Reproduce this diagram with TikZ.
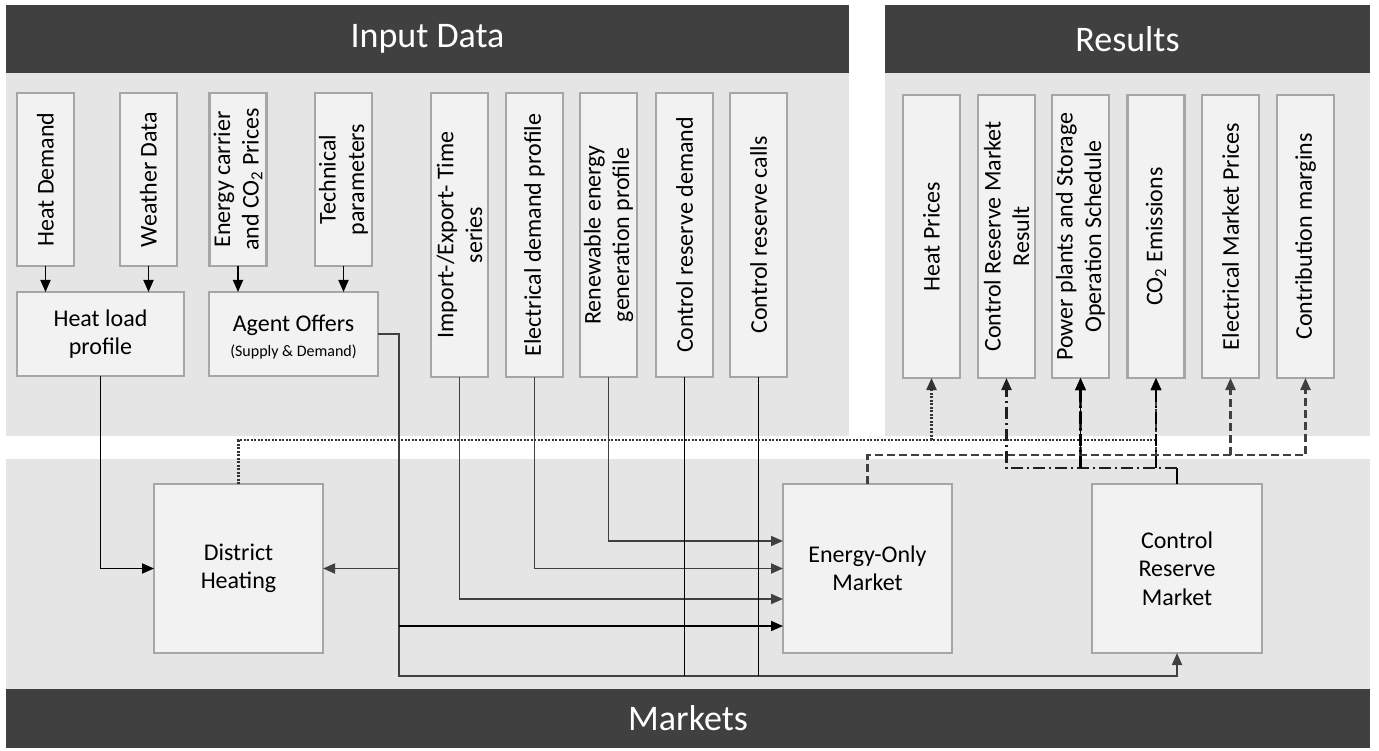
\documentclass[tikz,border=0pt]{standalone}
\usepackage{fontspec}
\setmainfont{Carlito}
\usetikzlibrary{arrows.meta,calc}
\definecolor{darkc}{HTML}{404040}
\definecolor{panelc}{HTML}{E5E5E5}
\definecolor{boxfill}{HTML}{F2F2F2}
\definecolor{boxborder}{HTML}{A6A6A6}
\definecolor{linegrey}{HTML}{404040}
\newcommand{\headfont}{\fontsize{36}{42}\selectfont}
\newcommand{\boxfont}{\fontsize{24}{28.5}\selectfont}
\newcommand{\smallboxfont}{\fontsize{16}{19}\selectfont}
\begin{document}
\begin{tikzpicture}[x=1pt,y=-1pt,
  panel/.style={fill=panelc,draw=none},
  bar/.style={fill=darkc,draw=none},
  bartext/.style={text=white,font=\headfont},
  box/.style={draw=boxborder,line width=2.5pt,fill=boxfill,inner sep=0pt,outer sep=0pt},
  vbox/.style={box,minimum width=57pt,minimum height=284pt},
  sbox/.style={box,minimum width=57pt,minimum height=173pt},
  mbox/.style={box,minimum width=169pt,minimum height=169pt},
  vtext/.style={rotate=90,align=center,font=\boxfont,inner sep=0pt},
  htext/.style={align=center,font=\boxfont,inner sep=0pt},
  conn/.style={line width=1.8pt,draw=linegrey},
  connb/.style={line width=1.8pt,draw=black},
  arr/.style={-{Triangle[length=12pt,width=10pt]}},
  dotl/.style={line width=2.3pt,draw=black!80,dash pattern=on 2pt off 1.5pt},
  dashl/.style={line width=2.3pt,draw=linegrey,dash pattern=on 8pt off 4pt},
  ddl/.style={line width=2.3pt,draw=black!88,dash pattern=on 12pt off 4pt on 2pt off 4pt},
]
\useasboundingbox (0,0) rectangle (1379,751);
\fill[white] (0,0) rectangle (1379,751);
% panels and bars
\fill[panel] (6,73) rectangle (849,436);
\fill[panel] (885,73) rectangle (1370,436);
\fill[panel] (6,459) rectangle (1370,689);
\fill[bar] (6,5) rectangle (849,73);
\fill[bar] (885,5) rectangle (1370,73);
\fill[bar] (6,689) rectangle (1370,748);
\node[bartext] (tin) at (427.5,39) {Input Data};
\node[bartext] (tres) at (1127.5,39) {Results};
\node[bartext] (tmk) at (688,718.5) {Markets};
% input boxes
\node[sbox] (hd) at (45.5,179.5) {};
\node[vtext] (hdt) at (hd) {Heat Demand};
\node[sbox] (wd) at (148.5,179.5) {};
\node[vtext] (wdt) at (wd) {Weather Data};
\node[sbox] (ec) at (238,179.5) {};
\node[vtext] (ect) at (ec) {Energy carrier\\and CO\textsubscript{2} Prices};
\node[sbox] (tp) at (343.5,179.5) {};
\node[vtext] (tpt) at (tp) {Technical\\parameters};
\node[box,minimum width=167pt,minimum height=84pt] (hlp) at (100.5,334) {};
\node[htext] (hlpt) at (hlp) {Heat load\\profile};
\node[box,minimum width=169pt,minimum height=84pt] (ao) at (293.5,334) {};
\node[htext] (aot) at (293.5,337) {Agent Offers\\[-3pt]{\smallboxfont(Supply \& Demand)}};
\node[vbox] (ie) at (459.5,235) {};
\node[vtext] (iet) at (ie) {Import-/Export- Time\\series};
\node[vbox] (ed) at (534.5,235) {};
\node[vtext] (edt) at (ed) {Electrical demand profile};
\node[vbox] (re) at (608.5,235) {};
\node[vtext] (ret) at (re) {Renewable energy\\generation profile};
\node[vbox] (crd) at (684.5,235) {};
\node[vtext] (crdt) at (crd) {Control reserve demand};
\node[vbox] (crc) at (758.5,235) {};
\node[vtext] (crct) at (crc) {Control reserve calls};
% result boxes
\node[vbox,minimum height=283pt] (hp) at (931.5,236.5) {};
\node[vtext] (hpt) at (hp) {Heat Prices};
\node[vbox,minimum height=283pt] (crmr) at (1006.5,236.5) {};
\node[vtext] (crmrt) at (crmr) {Control Reserve Market\\Result};
\node[vbox,minimum height=283pt] (pp) at (1080.5,236.5) {};
\node[vtext] (ppt) at (pp) {Power plants and Storage\\Operation Schedule};
\node[vbox,minimum height=283pt] (co2) at (1156,236.5) {};
\node[vtext] (co2t) at (co2) {CO\textsubscript{2} Emissions};
\node[vbox,minimum height=283pt] (emp) at (1230.5,236.5) {};
\node[vtext] (empt) at (emp) {Electrical Market Prices};
\node[vbox,minimum height=283pt] (cm) at (1305.5,236.5) {};
\node[vtext] (cmt) at (cm) {Contribution margins};
% market boxes
\node[mbox] (dh) at (238.5,568.5) {};
\node[htext] (dht) at (dh) {District\\Heating};
\node[mbox] (eo) at (867.5,568.5) {};
\node[htext] (eot) at (eo) {Energy-Only\\Market};
\node[mbox,minimum width=170pt] (crm) at (1177,568.5) {};
\node[htext] (crmt) at (crm) {Control\\Reserve\\Market};
% helper coordinates
\coordinate (bus) at (399,676);
\coordinate (dotb) at (0,440);
\coordinate (dashb) at (0,455);
\coordinate (ddb) at (0,468);
% input arrows
\draw[connb,arr] (hd.south) -- (hd.south |- hlp.north);
\draw[connb,arr] (wd.south) -- (wd.south |- hlp.north);
\draw[connb,arr] (ec.south) -- (ec.south |- ao.north);
\draw[connb,arr] (tp.south) -- (tp.south |- ao.north);
\draw[connb,arr] (hlp.south) |- (dh.west);
% agent offers trunk
\draw[conn,arr] (ao.east) -| (bus) -| (crm.south);
\draw[conn,arr] (ao.east -| bus) |- (dh.east);
\draw[connb,arr] (bus |- 0,626) -- (eo.west |- 0,626);
% electrical inputs
\draw[conn,arr] (re.south) |- (eo.west |- 0,541);
\draw[conn,arr] (ed.south) |- (eo.west);
\draw[conn,arr] (ie.south) |- (eo.west |- 0,599);
\draw[connb] (crd.south) -- (crd.south |- bus);
\draw[connb] (crc.south) -- (crc.south |- bus);
% results: district heating (dotted)
\draw[dotl,arr] (dh.north) -- (dh.north |- dotb) -| (co2.south);
\draw[dotl,arr] (hp.south |- dotb) -- (hp.south);
% results: energy-only (dashed)
\draw[dashl,arr] (eo.north) -- (eo.north |- dashb) -| (cm.south);
\draw[dashl,arr] (emp.south |- dashb) -- (emp.south);
\draw[dashl,arr] (pp.south |- dashb) -- (pp.south);
\draw[dashl,arr] (co2.south |- dashb) -- (co2.south);
% results: control reserve market (dash-dot)
\draw[connb] (crm.north) -- (crm.north |- ddb);
\draw[ddl,arr] (crm.north |- ddb) -| (crmr.south);
\draw[ddl,arr,draw=black] (pp.south |- ddb) -- (pp.south);
\draw[ddl,arr,draw=black] (co2.south |- ddb) -- (co2.south);
\draw[connb,arr] (pp.south |- dashb) -- (pp.south);
\end{tikzpicture}
\end{document}
